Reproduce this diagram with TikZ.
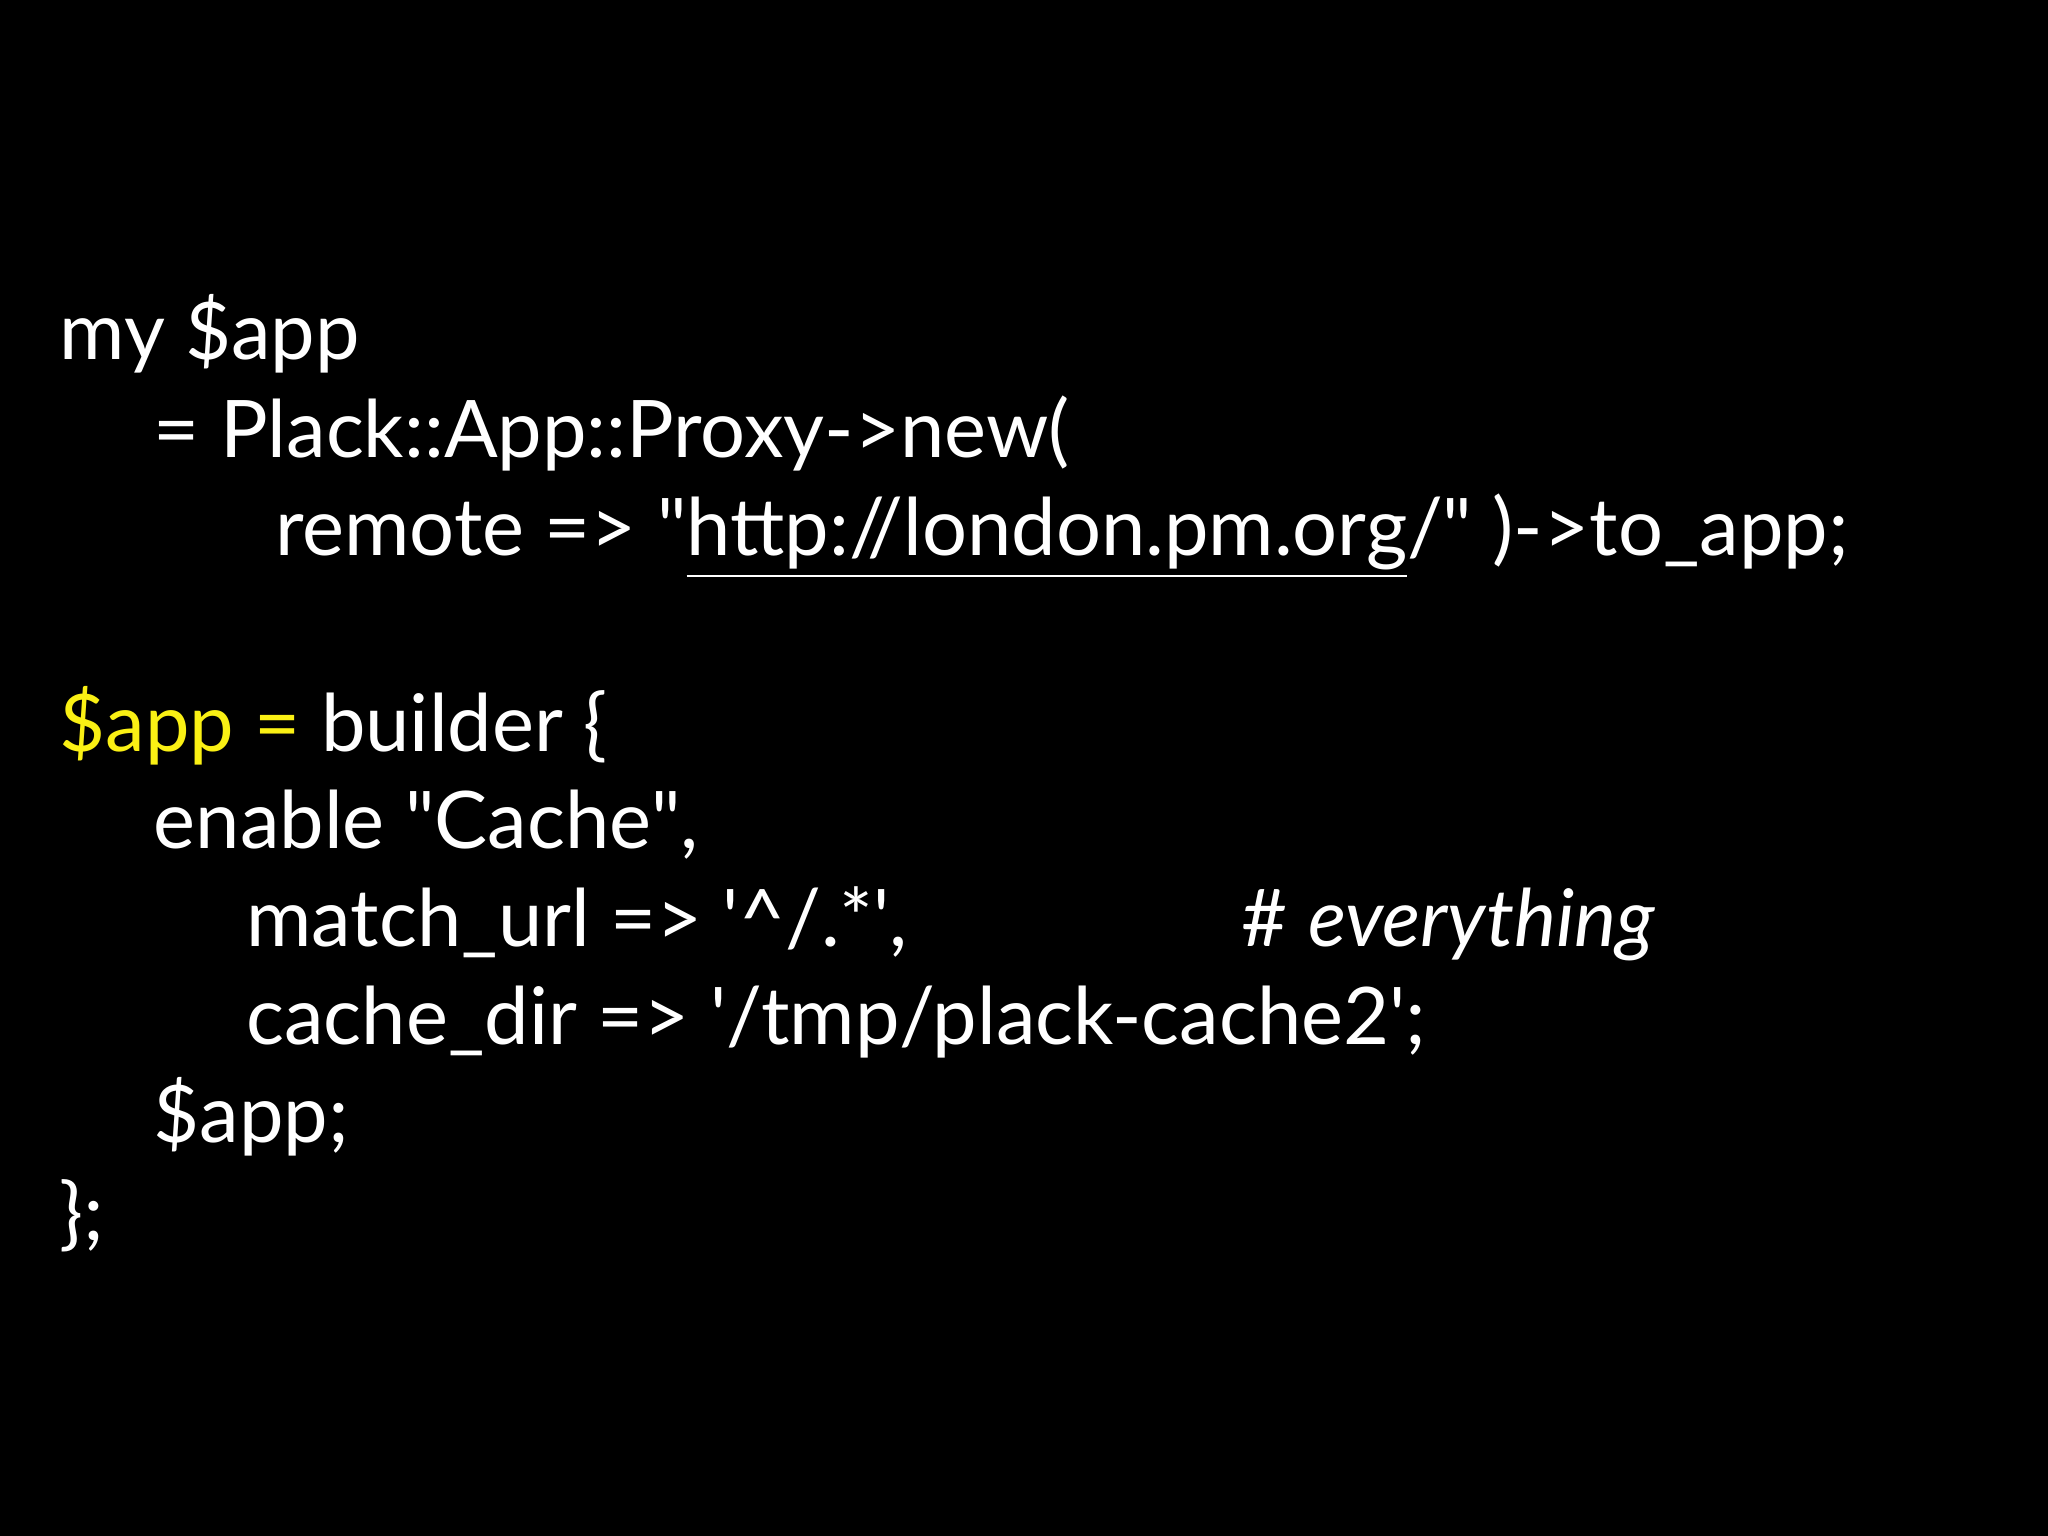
\documentclass[tikz,border=0pt]{standalone}
\usepackage{fontspec}
\setmainfont{Lato}
\definecolor{codeyellow}{RGB}{250,240,20}
\newcommand{\sq}{\textquotesingle}
\newcommand{\dq}{\textquotedbl}
\begin{document}
\begin{tikzpicture}[x=0.01cm,y=-0.01cm,
  code/.style={anchor=base west,inner sep=0,text=white,font=\fontsize{17.3}{20}\selectfont}]
\fill[black] (0,0) rectangle (1568,1176);
\useasboundingbox (0,0) rectangle (1568,1176);
\node[code] (l1) at (45,275) {my \$app};
\node[code] (l2) at (117,350) {= Plack::App::Proxy->new(};
\node[code] (l3) at (210,425) {remote => \dq\underline{http://london.pm.org}/\dq\ )->to\_app;};
\node[code] (l4) at (45,575) {\textcolor{codeyellow}{\$app =} builder \{};
\node[code] (l5) at (117,650) {enable \dq Cache\dq,};
\node[code] (l6) at (188,725) {match\_url => \sq\^{}/.*\sq,};
\node[code] (l6c) at (950,725) {\# \textit{everything}};
\node[code] (l7) at (188,800) {cache\_dir => \sq/tmp/plack-cache2\sq;};
\node[code] (l8) at (117,875) {\$app;};
\node[code] (l9) at (45,950) {\};};
\end{tikzpicture}
\end{document}
